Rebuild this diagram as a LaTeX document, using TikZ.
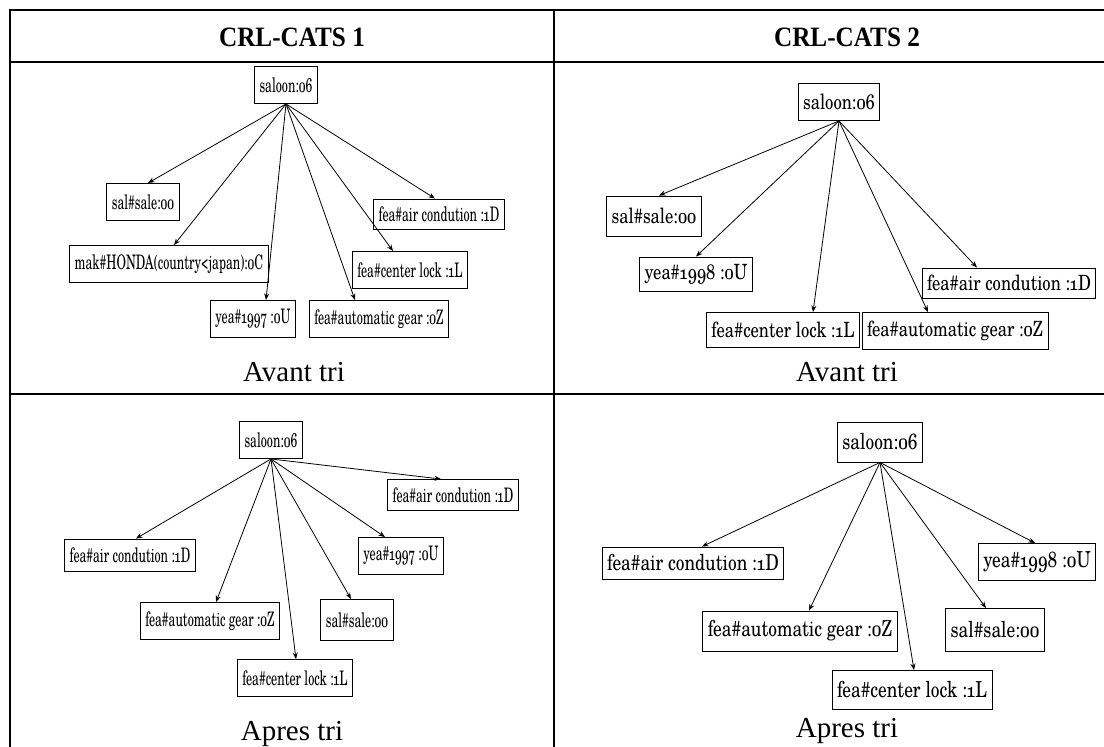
\documentclass[tikz,border=0pt]{standalone}
\usepackage{fontspec}
\setmainfont{Liberation Serif}
\newfontfamily\headfont[FakeStretch=0.9]{Liberation Serif}
\newfontfamily\nodefontl[Numbers=OldStyle,FakeStretch=0.61]{TeX Gyre Schola}
\newfontfamily\nodefontr[Numbers=OldStyle,FakeStretch=0.79]{TeX Gyre Schola}
\usepackage{tikz}
\usetikzlibrary{arrows.meta}
\tikzset{
  x=1pt, y=-1pt,
  >={Stealth[length=6.5pt,width=5pt]},
  grid/.style={line width=2pt},
  box/.style={draw, rectangle, line width=0.9pt, inner sep=5pt, minimum height=37pt},
  lbox/.style={box, font=\nodefontl\fontsize{20}{20}\selectfont},
  rbox/.style={box, font=\nodefontr\fontsize{21}{21}\selectfont},
  rbbox/.style={box, font=\nodefontr\fontsize{22}{22}\selectfont},
  head/.style={font=\headfont\bfseries\fontsize{28}{28}\selectfont},
  subtitle/.style={anchor=base, font=\fontsize{29}{29}\selectfont},
  link/.style={->, line width=0.8pt}
}

\begin{document}
\begin{tikzpicture}
    \useasboundingbox (0,0) rectangle (1104,747);
    \draw[grid] (10,747) -- (10,10) -- (1104,10);
    \draw[grid] (554,747) -- (554,10);
    \draw[grid] (10,62) -- (1104,62);
    \draw[grid] (10,394) -- (1104,394);

    \node[head] (cats1) at (292,37) {CRL-CATS 1};
    \node[head] (cats2) at (847,37) {CRL-CATS 2};
    \node[subtitle] (avant1) at (294,381) {Avant tri};
    \node[subtitle] (avant2) at (847,381) {Avant tri};
    \node[subtitle] (apres1) at (292,740) {Apres tri};
    \node[subtitle] (apres2) at (847,737) {Apres tri};

    \node[lbox] (saloon1) at (286,85) {saloon:06};
    \node[lbox] (sale1) at (143,202) {sal\#sale:00};
    \node[lbox] (make1) at (169,264) {mak\#HONDA(country<japan):0C};
    \node[lbox] (year1) at (253,319) {yea\#1997 :0U};
    \node[lbox] (gear1) at (379,319) {fea\#automatic gear :0Z};
    \node[lbox] (lock1) at (410,270) {fea\#center lock :1L};
    \node[lbox, minimum height=30pt] (air1) at (439,214) {fea\#air condution :1D};

    \node[rbox] (saloon2) at (839,102) {saloon:06};
    \node[rbox, minimum height=40pt] (sale2) at (654,216) {sal\#sale:00};
    \node[rbox, minimum height=34pt] (year2) at (696,274) {yea\#1998 :0U};
    \node[rbox, minimum height=35pt] (lock2) at (783,330) {fea\#center lock :1L};
    \node[rbox] (gear2) at (955,331) {fea\#automatic gear :0Z};
    \node[rbox, minimum height=30pt] (air2) at (1009,283) {fea\#air condution :1D};

    \node[lbox] (saloon3) at (271,440) {saloon:06};
    \node[lbox, minimum height=31pt] (airr3) at (453,495) {fea\#air condution :1D};
    \node[lbox, minimum height=32pt] (airl3) at (130,555) {fea\#air condution :1D};
    \node[lbox] (year3) at (401,556) {yea\#1997 :0U};
    \node[lbox] (gear3) at (210,621) {fea\#automatic gear :0Z};
    \node[lbox, minimum height=41pt] (sale3) at (357,620) {sal\#sale:00};
    \node[lbox] (lock3) at (295,678) {fea\#center lock :1L};

    \node[rbbox, minimum height=40pt] (saloon4) at (880,442) {saloon:06};
    \node[rbbox, minimum height=32pt] (air4) at (693,563) {fea\#air condution :1D};
    \node[rbbox] (year4) at (1037,562) {yea\#1998 :0U};
    \node[rbbox, minimum height=40pt] (gear4) at (800,631) {fea\#automatic gear :0Z};
    \node[rbbox, minimum height=43pt] (sale4) at (995,630) {sal\#sale:00};
    \node[rbbox, minimum height=39pt] (lock4) at (912,690) {fea\#center lock :1L};

    \draw[link] (saloon1.south) -- ([xshift=5pt]sale1.north);
    \draw[link] (saloon1.south) -- ([xshift=5pt]make1.north);
    \draw[link] (saloon1.south) -- ([xshift=13pt]year1.north);
    \draw[link] (saloon1.south) -- ([xshift=-24pt]gear1.north);
    \draw[link] (saloon1.south) -- ([xshift=-17pt]lock1.north);
    \draw[link] (saloon1.south) -- ([xshift=-4pt]air1.north);

    \draw[link] (saloon2.south) -- ([xshift=5pt]sale2.north);
    \draw[link] (saloon2.south) -- (year2.north);
    \draw[link] (saloon2.south) -- ([xshift=30pt]lock2.north);
    \draw[link] (saloon2.south) -- ([xshift=-27pt]gear2.north);
    \draw[link] (saloon2.south) -- ([xshift=-32pt]air2.north);

    \draw[link] (saloon3.south) -- ([xshift=-12pt]airr3.north);
    \draw[link] (saloon3.south) -- ([xshift=6pt]airl3.north);
    \draw[link] (saloon3.south) -- ([xshift=6pt]gear3.north);
    \draw[link] (saloon3.south) -- ([xshift=1pt]lock3.north);
    \draw[link] (saloon3.south) -- ([xshift=-6pt]sale3.north);
    \draw[link] (saloon3.south) -- ([xshift=-16pt]year3.north);

    \draw[link] (saloon4.south) -- ([xshift=9pt]air4.north);
    \draw[link] (saloon4.south) -- ([xshift=9pt]gear4.north);
    \draw[link] (saloon4.south) -- ([xshift=2pt]lock4.north);
    \draw[link] (saloon4.south) -- ([xshift=-9pt]sale4.north);
    \draw[link] (saloon4.south) -- ([xshift=-2pt]year4.north);
\end{tikzpicture}
\end{document}
